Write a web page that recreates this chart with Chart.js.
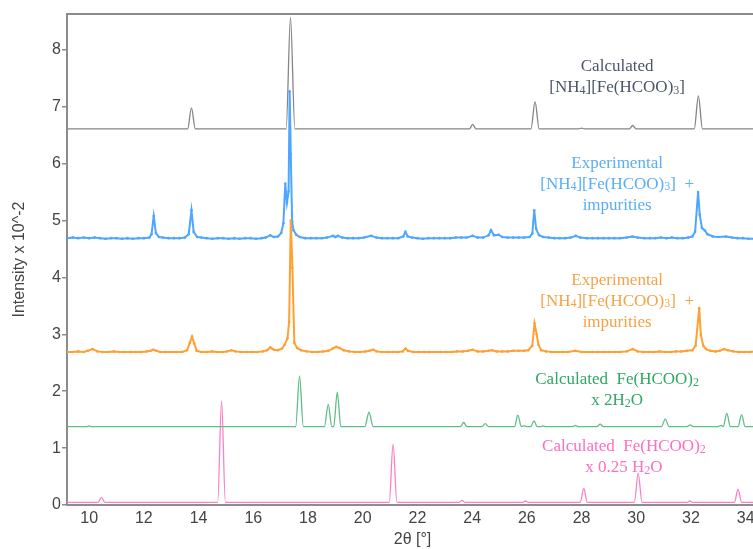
<!DOCTYPE html>
<html>
<head>
<meta charset="utf-8">
<script src="https://cdn.jsdelivr.net/npm/chart.js@4.4.1/dist/chart.umd.min.js"></script>
<style>
  html, body { margin: 0; padding: 0; background: #fff; overflow: hidden; }
  #wrap { position: relative; width: 762px; height: 549px; }
</style>
</head>
<body>
<div id="wrap"><canvas id="xrd"></canvas></div>
<script>
// 2θ range and intensity range (intensity x 10^-2, patterns stacked with offsets)
const thetaMin = 9.19;
const thetaMax = 34.45;
const intensityMax = 8.63;
const thetaTicks = [10, 12, 14, 16, 18, 20, 22, 24, 26, 28, 30, 32, 34];
const intensityTicks = [0, 1, 2, 3, 4, 5, 6, 7, 8];

// [2θ, intensity] pairs
const calcNH4 = [
  [9.19, 6.61], [13.6, 6.61], [13.74, 6.98], [13.88, 6.61],
  [17.2, 6.61], [17.36, 8.57], [17.52, 6.61],
  [23.9, 6.61], [24.02, 6.69], [24.14, 6.61],
  [26.15, 6.61], [26.3, 7.09], [26.45, 6.61],
  [27.9, 6.61], [28.0, 6.625], [28.1, 6.61],
  [29.75, 6.61], [29.87, 6.67], [29.99, 6.61],
  [32.12, 6.61], [32.27, 7.19], [32.42, 6.61], [34.5, 6.61]
];

const expBlue = [
  [9.2, 4.69], [9.4, 4.70], [9.6, 4.69], [9.8, 4.70], [10.0, 4.69], [10.2, 4.70], [10.4, 4.69],
  [10.6, 4.68], [10.8, 4.69], [11.0, 4.69], [11.2, 4.68], [11.4, 4.69], [11.6, 4.68], [11.8, 4.69],
  [12.0, 4.69], [12.2, 4.70], [12.28, 4.76], [12.36, 5.08], [12.44, 4.78], [12.55, 4.71], [12.7, 4.70],
  [12.9, 4.69], [13.1, 4.69], [13.3, 4.69], [13.5, 4.70], [13.64, 4.76], [13.74, 5.18], [13.82, 4.80],
  [13.95, 4.71], [14.1, 4.70], [14.3, 4.69], [14.5, 4.68], [14.7, 4.69], [14.9, 4.69], [15.1, 4.68],
  [15.3, 4.69], [15.5, 4.68], [15.7, 4.69], [15.9, 4.69], [16.1, 4.68], [16.3, 4.69], [16.45, 4.70],
  [16.62, 4.74], [16.75, 4.71], [16.9, 4.72], [17.02, 4.78], [17.1, 4.95], [17.17, 5.65], [17.23, 5.31],
  [17.29, 5.51], [17.33, 7.27], [17.37, 6.17], [17.42, 4.98], [17.47, 4.83], [17.57, 4.75], [17.7, 4.71],
  [17.9, 4.69], [18.1, 4.69], [18.3, 4.69], [18.5, 4.69], [18.7, 4.70], [18.91, 4.73], [19.0, 4.71],
  [19.09, 4.73], [19.25, 4.70], [19.45, 4.69], [19.65, 4.69], [19.85, 4.69], [20.05, 4.70], [20.31, 4.73],
  [20.5, 4.70], [20.7, 4.69], [20.9, 4.69], [21.1, 4.69], [21.3, 4.69], [21.48, 4.72], [21.56, 4.80],
  [21.65, 4.72], [21.8, 4.70], [22.0, 4.69], [22.2, 4.68], [22.4, 4.69], [22.6, 4.69], [22.8, 4.69],
  [23.0, 4.69], [23.2, 4.69], [23.4, 4.70], [23.6, 4.70], [23.8, 4.70], [24.02, 4.73], [24.2, 4.70],
  [24.4, 4.70], [24.6, 4.74], [24.69, 4.83], [24.8, 4.74], [24.97, 4.75], [25.1, 4.71], [25.3, 4.70],
  [25.5, 4.70], [25.7, 4.70], [25.9, 4.70], [26.1, 4.71], [26.2, 4.77], [26.27, 5.18], [26.34, 4.85],
  [26.45, 4.74], [26.6, 4.71], [26.8, 4.70], [27.0, 4.69], [27.2, 4.69], [27.4, 4.69], [27.6, 4.70],
  [27.79, 4.73], [27.95, 4.70], [28.2, 4.69], [28.4, 4.69], [28.6, 4.69], [28.8, 4.69], [29.0, 4.69],
  [29.2, 4.69], [29.4, 4.69], [29.65, 4.70], [29.86, 4.72], [30.05, 4.70], [30.3, 4.69], [30.5, 4.69],
  [30.7, 4.69], [30.9, 4.70], [31.1, 4.69], [31.3, 4.70], [31.5, 4.69], [31.7, 4.69], [31.9, 4.70],
  [32.05, 4.72], [32.15, 4.80], [32.26, 5.50], [32.32, 5.10], [32.4, 4.87], [32.5, 4.83], [32.6, 4.76],
  [32.8, 4.72], [33.0, 4.71], [33.28, 4.72], [33.5, 4.70], [33.7, 4.69], [33.9, 4.69], [34.1, 4.68],
  [34.3, 4.68], [34.5, 4.69]
];

const expOrange = [
  [9.2, 2.69], [9.4, 2.69], [9.6, 2.70], [9.8, 2.69], [9.95, 2.71], [10.12, 2.74], [10.3, 2.70],
  [10.5, 2.69], [10.7, 2.69], [10.9, 2.70], [11.1, 2.69], [11.3, 2.69], [11.5, 2.69], [11.7, 2.69],
  [11.9, 2.69], [12.1, 2.70], [12.25, 2.71], [12.34, 2.73], [12.45, 2.71], [12.6, 2.69], [12.8, 2.69],
  [13.0, 2.69], [13.2, 2.69], [13.4, 2.69], [13.58, 2.72], [13.68, 2.85], [13.76, 2.96], [13.84, 2.84],
  [13.93, 2.71], [14.1, 2.69], [14.3, 2.69], [14.5, 2.70], [14.7, 2.69], [14.9, 2.69], [15.05, 2.70],
  [15.2, 2.72], [15.35, 2.70], [15.55, 2.69], [15.75, 2.69], [15.95, 2.69], [16.15, 2.69], [16.35, 2.70],
  [16.5, 2.72], [16.62, 2.77], [16.75, 2.73], [16.9, 2.72], [17.05, 2.75], [17.15, 2.82], [17.25, 2.93],
  [17.31, 3.22], [17.37, 5.00], [17.43, 4.17], [17.5, 2.85], [17.6, 2.76], [17.75, 2.72], [17.95, 2.70],
  [18.15, 2.69], [18.35, 2.69], [18.55, 2.70], [18.75, 2.71], [18.9, 2.75], [19.03, 2.78], [19.15, 2.76],
  [19.3, 2.72], [19.5, 2.70], [19.7, 2.69], [19.9, 2.69], [20.1, 2.70], [20.25, 2.71], [20.38, 2.73],
  [20.5, 2.70], [20.7, 2.69], [20.9, 2.69], [21.1, 2.69], [21.3, 2.69], [21.46, 2.70], [21.56, 2.75],
  [21.65, 2.71], [21.85, 2.69], [22.05, 2.69], [22.25, 2.69], [22.45, 2.69], [22.65, 2.69], [22.85, 2.69],
  [23.05, 2.69], [23.25, 2.69], [23.45, 2.70], [23.65, 2.70], [23.85, 2.71], [24.02, 2.73], [24.2, 2.70],
  [24.4, 2.70], [24.6, 2.71], [24.73, 2.72], [24.9, 2.70], [25.1, 2.70], [25.3, 2.70], [25.5, 2.71],
  [25.7, 2.71], [25.9, 2.71], [26.05, 2.72], [26.2, 2.80], [26.28, 3.19], [26.36, 3.00], [26.42, 2.82],
  [26.52, 2.72], [26.7, 2.70], [26.9, 2.69], [27.1, 2.69], [27.3, 2.69], [27.5, 2.69], [27.77, 2.71],
  [28.0, 2.69], [28.2, 2.69], [28.4, 2.69], [28.6, 2.69], [28.8, 2.69], [29.0, 2.69], [29.2, 2.69],
  [29.4, 2.69], [29.65, 2.70], [29.87, 2.74], [30.05, 2.70], [30.25, 2.69], [30.45, 2.69], [30.65, 2.69],
  [30.85, 2.70], [31.05, 2.69], [31.25, 2.69], [31.45, 2.70], [31.65, 2.70], [31.85, 2.71], [32.05, 2.72],
  [32.17, 2.80], [32.3, 3.46], [32.36, 2.99], [32.45, 2.80], [32.55, 2.74], [32.7, 2.71], [32.9, 2.70],
  [33.05, 2.71], [33.21, 2.74], [33.35, 2.72], [33.55, 2.70], [33.75, 2.69], [33.95, 2.69], [34.15, 2.69],
  [34.35, 2.70], [34.5, 2.69]
];

const calcDihydrate = [
  [9.19, 1.376], [9.9, 1.376], [10.0, 1.39], [10.1, 1.376],
  [17.55, 1.376], [17.69, 2.27], [17.83, 1.376],
  [18.6, 1.376], [18.74, 1.77], [18.87, 1.376], [18.94, 1.376], [19.07, 1.98], [19.2, 1.376],
  [20.08, 1.376], [20.23, 1.63], [20.38, 1.376],
  [23.57, 1.376], [23.69, 1.45], [23.81, 1.376],
  [24.36, 1.376], [24.48, 1.43], [24.6, 1.376],
  [25.55, 1.376], [25.67, 1.58], [25.8, 1.38], [25.91, 1.39], [26.02, 1.376],
  [26.14, 1.376], [26.26, 1.48], [26.38, 1.376], [26.5, 1.376], [26.59, 1.39], [26.7, 1.376],
  [27.67, 1.376], [27.77, 1.40], [27.87, 1.376],
  [28.56, 1.376], [28.68, 1.42], [28.8, 1.376],
  [30.92, 1.376], [31.06, 1.51], [31.2, 1.376],
  [31.85, 1.376], [31.97, 1.41], [32.09, 1.376],
  [32.98, 1.376], [33.1, 1.40], [33.18, 1.38], [33.31, 1.61], [33.44, 1.376],
  [33.72, 1.376], [33.85, 1.59], [33.98, 1.376], [34.5, 1.376]
];

const calcQuarterHydrate = [
  [9.19, 0.047], [10.33, 0.047], [10.45, 0.135], [10.57, 0.047],
  [14.7, 0.047], [14.84, 1.83], [14.98, 0.047],
  [20.97, 0.047], [21.11, 1.07], [21.25, 0.047],
  [23.53, 0.047], [23.63, 0.08], [23.73, 0.047],
  [25.85, 0.047], [25.95, 0.07], [26.05, 0.047],
  [27.95, 0.047], [28.08, 0.29], [28.21, 0.047],
  [29.93, 0.047], [30.07, 0.56], [30.21, 0.047],
  [31.86, 0.047], [31.96, 0.07], [32.06, 0.047],
  [33.59, 0.047], [33.72, 0.28], [33.85, 0.047], [34.5, 0.047]
];

// phase labels: anchor at (2θ, intensity) of the first line's centre; "_n" marks a subscript digit
const phaseLabels = [
  { x: 29.30, y: 7.70, color: '#4a5568', lines: ['Calculated', '[NH_4][Fe(HCOO)_3]'] },
  { x: 29.30, y: 6.01, color: '#5aaef5', lines: ['Experimental', '[NH_4][Fe(HCOO)_3]  +', 'impurities'] },
  { x: 29.30, y: 3.95, color: '#f7a245', lines: ['Experimental', '[NH_4][Fe(HCOO)_3]  +', 'impurities'] },
  { x: 29.30, y: 2.20, color: '#2ea862', lines: ['Calculated  Fe(HCOO)_2', 'x 2H_2O'] },
  { x: 29.55, y: 1.02, color: '#ff6ec0', lines: ['Calculated  Fe(HCOO)_2', 'x 0.25 H_2O'] }
];

const LABEL_FONT = '17px "Times New Roman", "Liberation Serif", serif';
const SUB_FONT = '12px "Times New Roman", "Liberation Serif", serif';
const LINE_GAP = 21;

const phaseLabelPlugin = {
  id: 'phaseLabels',
  afterDatasetsDraw(chart) {
    const ctx = chart.ctx;
    const xs = chart.scales.x, ys = chart.scales.y;
    ctx.save();
    ctx.textBaseline = 'middle';
    ctx.textAlign = 'left';
    phaseLabels.forEach(lbl => {
      const cx = xs.getPixelForValue(lbl.x);
      let cy = ys.getPixelForValue(lbl.y);
      ctx.fillStyle = lbl.color;
      lbl.lines.forEach(line => {
        const parts = line.split(/_(\d)/).map((t, i) => ({ t, sub: i % 2 === 1 }));
        let total = 0;
        parts.forEach(p => {
          ctx.font = p.sub ? SUB_FONT : LABEL_FONT;
          p.w = ctx.measureText(p.t).width;
          total += p.w;
        });
        let px = cx - total / 2;
        parts.forEach(p => {
          ctx.font = p.sub ? SUB_FONT : LABEL_FONT;
          ctx.fillText(p.t, px, cy + (p.sub ? 3 : 0));
          px += p.w;
        });
        cy += LINE_GAP;
      });
    });
    ctx.restore();
  }
};

Chart.defaults.font.family = 'Arial, "Liberation Sans", sans-serif';
Chart.defaults.color = '#444';

function calcSet(data, color) {
  return {
    data, borderColor: color, borderWidth: 1.3, pointRadius: 0,
    cubicInterpolationMode: 'monotone', fill: false
  };
}
function expSet(data, color) {
  return {
    data, borderColor: color, backgroundColor: color, borderWidth: 2,
    pointRadius: 1.3, pointBorderWidth: 0, pointBackgroundColor: color, tension: 0, fill: false
  };
}

const axisGray = '#8c8c8c';

new Chart(document.getElementById('xrd'), {
  type: 'line',
  data: {
    datasets: [
      calcSet(calcNH4, '#858585'),
      expSet(expOrange, '#ffa033'),
      expSet(expBlue, '#4da6ff'),
      calcSet(calcDihydrate, '#5cbf85'),
      calcSet(calcQuarterHydrate, '#ff7fc4')
    ]
  },
  options: {
    responsive: true,
    maintainAspectRatio: false,
    animation: false,
    devicePixelRatio: 1,
    layout: { padding: { left: 0, right: 3, top: 0, bottom: 0 } },
    plugins: { legend: { display: false }, tooltip: { enabled: false } },
    scales: {
      x: {
        type: 'linear', position: 'bottom',
        min: thetaMin, max: thetaMax,
        afterBuildTicks: s => { s.ticks = thetaTicks.map(v => ({ value: v })); },
        afterFit: s => { s.height = 44; },
        ticks: { padding: 4, font: { size: 16 }, color: '#444', maxRotation: 0, autoSkip: false },
        grid: { display: false, drawTicks: false },
        border: { display: true, color: axisGray, width: 2 },
        title: { display: true, text: '2θ [°]', font: { size: 16 }, color: '#444', padding: { top: 0, bottom: 0 } }
      },
      xTop: {
        type: 'linear', position: 'top',
        min: thetaMin, max: thetaMax,
        afterFit: s => { s.height = 14; },
        ticks: { display: false },
        grid: { display: false, drawTicks: false },
        border: { display: true, color: axisGray, width: 2 }
      },
      y: {
        type: 'linear', position: 'left',
        min: 0, max: intensityMax,
        afterBuildTicks: s => { s.ticks = intensityTicks.map(v => ({ value: v })); },
        afterFit: s => { s.width = 67; },
        ticks: { padding: 1, font: { size: 16 }, color: '#444' },
        grid: { display: true, drawOnChartArea: false, drawTicks: true, tickLength: 5, color: axisGray, lineWidth: 1.5 },
        border: { display: true, color: axisGray, width: 2 },
        title: { display: true, text: 'Intensity x 10^-2', font: { size: 16 }, color: '#444', padding: { top: 10, bottom: 0 } }
      }
    }
  },
  plugins: [phaseLabelPlugin]
});
</script>
</body>
</html>
